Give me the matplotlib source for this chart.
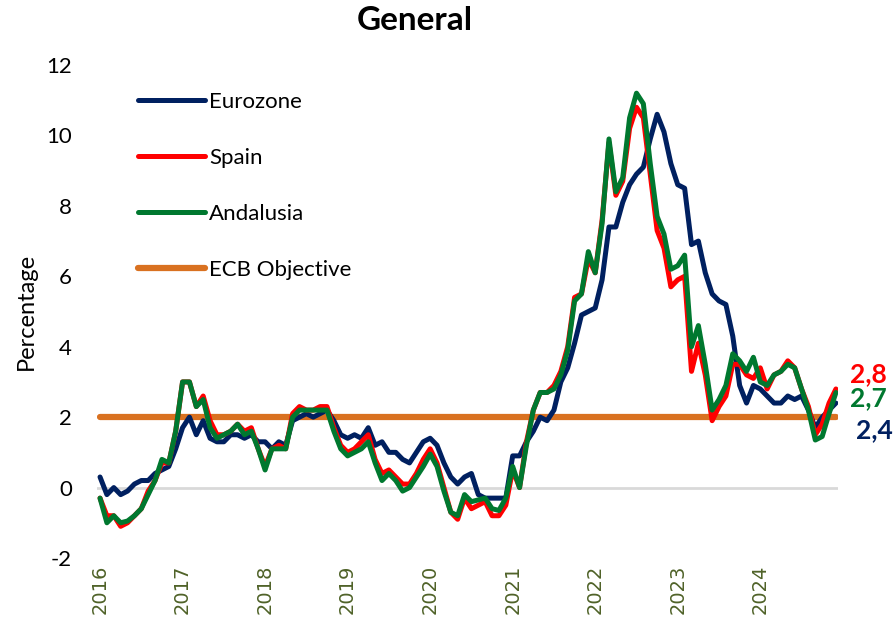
import numpy as np
import matplotlib
matplotlib.use("Agg")
import matplotlib.pyplot as plt

# Monthly inflation, Jan 2016 - Dec 2024 (%)
years = [2016, 2017, 2018, 2019, 2020, 2021, 2022, 2023, 2024]

eurozone = [
    0.3, -0.2, 0.0, -0.2, -0.1, 0.1, 0.2, 0.2, 0.4, 0.5, 0.6, 1.1,
    1.7, 2.0, 1.5, 1.9, 1.4, 1.3, 1.3, 1.5, 1.5, 1.4, 1.5, 1.3,
    1.3, 1.1, 1.3, 1.2, 1.9, 2.0, 2.1, 2.0, 2.1, 2.2, 1.9, 1.5,
    1.4, 1.5, 1.4, 1.7, 1.2, 1.3, 1.0, 1.0, 0.8, 0.7, 1.0, 1.3,
    1.4, 1.2, 0.7, 0.3, 0.1, 0.3, 0.4, -0.2, -0.3, -0.3, -0.3, -0.3,
    0.9, 0.9, 1.3, 1.6, 2.0, 1.9, 2.2, 3.0, 3.4, 4.1, 4.9, 5.0,
    5.1, 5.9, 7.4, 7.4, 8.1, 8.6, 8.9, 9.1, 9.9, 10.6, 10.1, 9.2,
    8.6, 8.5, 6.9, 7.0, 6.1, 5.5, 5.3, 5.2, 4.3, 2.9, 2.4, 2.9,
    2.8, 2.6, 2.4, 2.4, 2.6, 2.5, 2.6, 2.2, 1.7, 2.0, 2.2, 2.4,
]

spain = [
    -0.3, -0.8, -0.8, -1.1, -1.0, -0.8, -0.6, -0.1, 0.2, 0.7, 0.7, 1.6,
    3.0, 3.0, 2.3, 2.6, 1.9, 1.5, 1.5, 1.6, 1.8, 1.6, 1.7, 1.1,
    0.6, 1.1, 1.2, 1.1, 2.1, 2.3, 2.2, 2.2, 2.3, 2.3, 1.7, 1.2,
    1.0, 1.1, 1.3, 1.5, 0.8, 0.4, 0.5, 0.3, 0.1, 0.1, 0.4, 0.8,
    1.1, 0.7, 0.0, -0.7, -0.9, -0.3, -0.6, -0.5, -0.4, -0.8, -0.8, -0.5,
    0.5, 0.0, 1.3, 2.2, 2.7, 2.7, 2.9, 3.3, 4.0, 5.4, 5.5, 6.5,
    6.1, 7.6, 9.8, 8.3, 8.7, 10.2, 10.8, 10.5, 8.9, 7.3, 6.8, 5.7,
    5.9, 6.0, 3.3, 4.1, 3.2, 1.9, 2.3, 2.6, 3.5, 3.5, 3.2, 3.1,
    3.4, 2.8, 3.2, 3.3, 3.6, 3.4, 2.8, 2.3, 1.5, 1.8, 2.4, 2.8,
]

andalusia = [
    -0.3, -1.0, -0.8, -1.0, -0.95, -0.8, -0.6, -0.2, 0.2, 0.8, 0.7, 1.6,
    3.0, 3.0, 2.3, 2.5, 1.7, 1.4, 1.5, 1.6, 1.8, 1.5, 1.6, 1.1,
    0.5, 1.1, 1.1, 1.1, 2.0, 2.2, 2.2, 2.2, 2.2, 2.2, 1.6, 1.1,
    0.9, 1.0, 1.1, 1.3, 0.7, 0.2, 0.4, 0.2, -0.1, 0.0, 0.3, 0.6,
    0.95, 0.6, -0.1, -0.7, -0.8, -0.2, -0.4, -0.35, -0.3, -0.6, -0.65, -0.3,
    0.6, 0.0, 1.2, 2.2, 2.7, 2.7, 2.8, 3.2, 3.9, 5.3, 5.5, 6.7,
    6.1, 7.5, 9.9, 8.4, 8.8, 10.5, 11.2, 10.9, 9.2, 7.7, 7.2, 6.2,
    6.3, 6.6, 4.0, 4.6, 3.5, 2.2, 2.5, 2.9, 3.8, 3.6, 3.3, 3.7,
    3.0, 2.9, 3.2, 3.3, 3.5, 3.4, 2.8, 2.2, 1.35, 1.45, 2.1, 2.7,
]

ecb_target = [2.0] * len(eurozone)

NAVY = "#002060"
RED = "#FF0000"
GREEN = "#00782F"
ORANGE = "#D97120"
OLIVE = "#4F6228"

plt.rcParams["font.family"] = ["Lato", "DejaVu Sans"]
plt.rcParams["axes.unicode_minus"] = False

fig = plt.figure(figsize=(8.93, 6.27), dpi=100)
W, H = 893, 627
ax = fig.add_axes([97 / W, 1 - 558 / H, (838 - 97) / W, (558 - 65) / H])

x = np.arange(len(eurozone))

# zero line
ax.axhline(0, color="#D9D9D9", lw=2, zorder=1)

ax.plot(x, ecb_target, color=ORANGE, lw=4.5, solid_capstyle="round", zorder=2, label="ECB Objective")
ax.plot(x, eurozone, color=NAVY, lw=3.6, solid_capstyle="round", solid_joinstyle="round", zorder=3, label="Eurozone")
ax.plot(x, spain, color=RED, lw=3.6, solid_capstyle="round", solid_joinstyle="round", zorder=4, label="Spain")
ax.plot(x, andalusia, color=GREEN, lw=3.6, solid_capstyle="round", solid_joinstyle="round", zorder=5, label="Andalusia")

ax.set_xlim(-0.44, 107.3)
ax.set_ylim(-2, 12)
ax.set_yticks(range(-2, 13, 2))
ax.tick_params(axis="y", length=0, pad=18, labelsize=16)

ax.set_xticks([12 * i for i in range(len(years))])
ax.set_xticklabels([str(y) for y in years], rotation=90, color=OLIVE,
                   fontsize=14, family="DejaVu Sans")
ax.tick_params(axis="x", length=0, pad=5)

for s in ax.spines.values():
    s.set_visible(False)

# legend
handles, labels = ax.get_legend_handles_labels()
order = [1, 2, 3, 0]
ax.legend([handles[i] for i in order], [labels[i] for i in order],
          loc="upper left", bbox_to_anchor=(138 / W, 1 - 92 / H),
          bbox_transform=fig.transFigure, frameon=False, fontsize=16,
          handlelength=3.0, handletextpad=0.2, labelspacing=1.62,
          borderpad=0, borderaxespad=0)

# end labels
last = len(eurozone) - 1
end_labels = [(spain[-1], RED, 14, 15), (andalusia[-1], GREEN, 14, -6), (eurozone[-1], NAVY, 20, -27)]
for val, col, dx, dy in end_labels:
    ax.annotate(f"{val:.1f}".replace(".", ","), xy=(last, val), xytext=(dx, dy),
                textcoords="offset pixels", color=col, fontsize=19, fontweight="bold",
                va="center", ha="left", annotation_clip=False)

fig.text(415 / W, 1 - 21 / H, "General", ha="center", va="center", fontsize=24, fontweight="bold")
fig.text(26 / W, 1 - 311 / H, "Percentage", ha="center", va="center", rotation=90, fontsize=17)

fig.savefig("out.png", dpi=100, facecolor="white")
